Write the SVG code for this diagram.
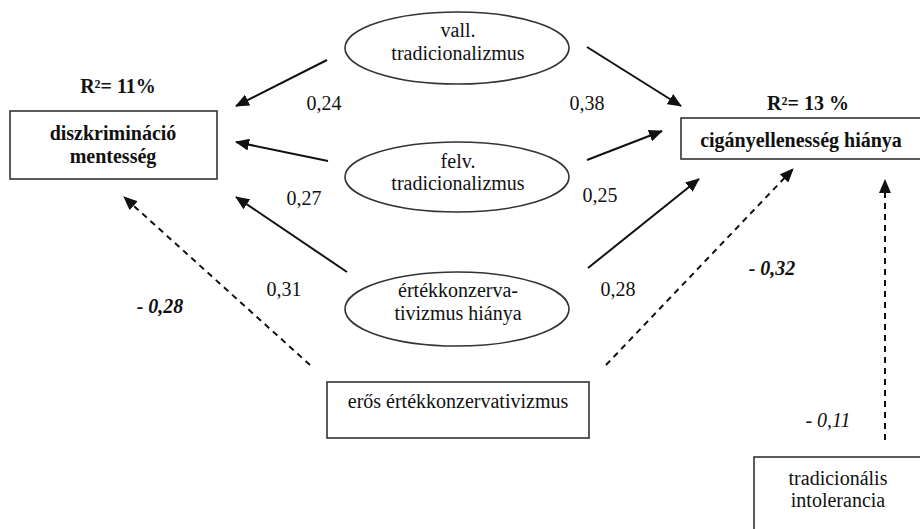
<svg xmlns="http://www.w3.org/2000/svg" width="920" height="529" viewBox="0 0 920 529">
<defs>
<marker id="ah" markerWidth="14" markerHeight="12" refX="13" refY="6" orient="auto" markerUnits="userSpaceOnUse">
<path d="M0,0 L14,6 L0,12 Z" fill="#111"/>
</marker>
</defs>
<rect width="920" height="529" fill="#fff"/>
<g id="connectors" stroke="#111" stroke-width="2" fill="none">
<line x1="327" y1="60" x2="236" y2="106" marker-end="url(#ah)"/>
<line x1="328" y1="161" x2="236" y2="142" marker-end="url(#ah)"/>
<line x1="347" y1="272" x2="236" y2="197" marker-end="url(#ah)"/>
<line x1="310" y1="365" x2="124" y2="197" stroke-dasharray="6 5" marker-end="url(#ah)"/>
<line x1="587" y1="47" x2="681" y2="106" marker-end="url(#ah)"/>
<line x1="587" y1="160" x2="662" y2="131" marker-end="url(#ah)"/>
<line x1="588" y1="268" x2="699" y2="179" marker-end="url(#ah)"/>
<line x1="606" y1="365" x2="793" y2="169" stroke-dasharray="6 5" marker-end="url(#ah)"/>
<line x1="885" y1="440" x2="885" y2="180" stroke-dasharray="6 5" marker-end="url(#ah)"/>
</g>
<g font-family="Liberation Serif" font-size="20" fill="#111" text-anchor="middle">
<g id="n-diszkr">
<rect x="10" y="111" width="207" height="68" fill="#fff" stroke="#333" stroke-width="1.6"/>
<text font-weight="bold" x="113" y="140">diszkrimináció</text>
<text font-weight="bold" x="113" y="163">mentesség</text>
<text font-weight="bold" x="118" y="93">R²= 11%</text>
</g>
<g id="n-cigany">
<rect x="681" y="118" width="250" height="41" fill="#fff" stroke="#333" stroke-width="1.6"/>
<text font-weight="bold" x="801" y="147">cigányellenesség hiánya</text>
<text font-weight="bold" x="808" y="110">R²= 13 %</text>
</g>
<g id="n-vall">
<ellipse cx="457" cy="48" rx="112" ry="36" fill="#fff" stroke="#333" stroke-width="1.6"/>
<text x="458" y="37">vall.</text>
<text x="458" y="60">tradicionalizmus</text>
</g>
<g id="n-felv">
<ellipse cx="457" cy="177" rx="112" ry="35" fill="#fff" stroke="#333" stroke-width="1.6"/>
<text x="458" y="168">felv.</text>
<text x="458" y="190">tradicionalizmus</text>
</g>
<g id="n-ertek">
<ellipse cx="457" cy="309" rx="112" ry="37" fill="#fff" stroke="#333" stroke-width="1.6"/>
<text x="458" y="297">értékkonzerva-</text>
<text x="458" y="320">tivizmus hiánya</text>
</g>
<g id="n-eros">
<rect x="327" y="382" width="262" height="56" fill="#fff" stroke="#333" stroke-width="1.6"/>
<text x="458" y="408">erős értékkonzervativizmus</text>
</g>
<g id="n-tradint">
<rect x="754" y="457" width="170" height="80" fill="#fff" stroke="#333" stroke-width="1.6"/>
<text x="838" y="485">tradicionális</text>
<text x="838" y="507">intolerancia</text>
</g>
<g id="labels">
<text x="324" y="110">0,24</text>
<text x="304" y="205">0,27</text>
<text x="284" y="296">0,31</text>
<text font-weight="bold" font-style="italic" x="160" y="313">- 0,28</text>
<text x="587" y="110">0,38</text>
<text x="600" y="202">0,25</text>
<text x="618" y="296">0,28</text>
<text font-weight="bold" font-style="italic" x="772" y="275">- 0,32</text>
<text font-style="italic" x="828" y="427">- 0,11</text>
</g>
</g>
</svg>
